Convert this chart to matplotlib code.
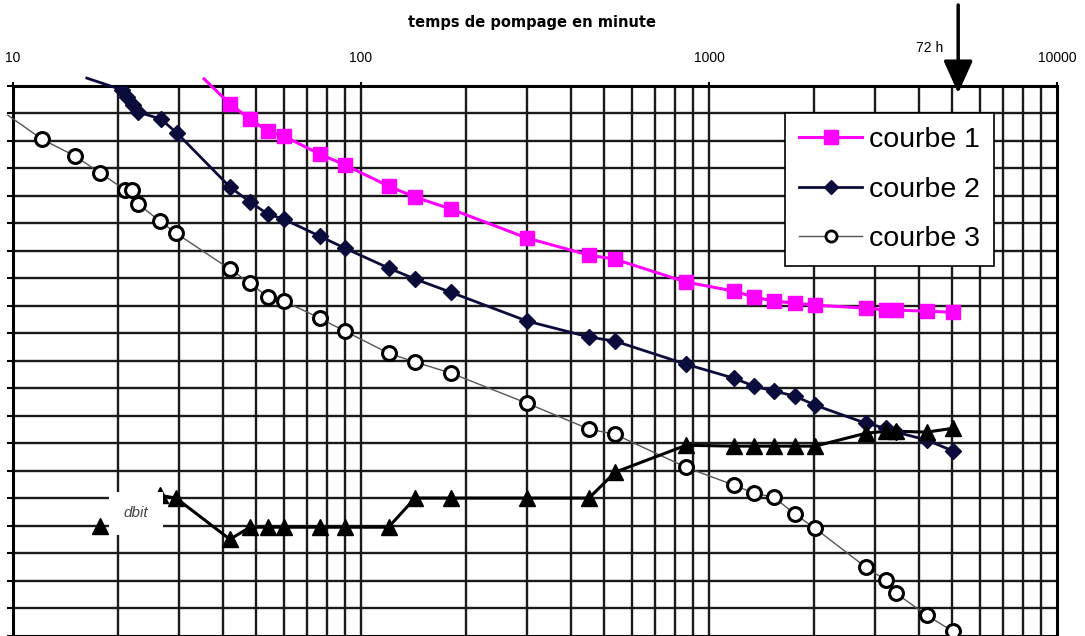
import numpy as np
import matplotlib.pyplot as plt
from matplotlib.lines import Line2D

# temps (min) et rabattement (en divisions de la grille, vers le bas)
t_c1 = [35.4, 42, 48, 54, 60, 76, 90, 120, 143, 181, 300, 452, 537, 859,
        1180, 1347, 1538, 1767, 2017, 2826, 3227, 3445, 4230, 5025]
s_c1 = [-0.25, 0.66, 1.21, 1.65, 1.83, 2.48, 2.88, 3.65, 4.05, 4.48, 5.54,
        6.16, 6.31, 7.14, 7.47, 7.69, 7.83, 7.91, 7.98, 8.09, 8.16, 8.16,
        8.20, 8.24]

t_c2 = [16.3, 20.6, 21.3, 22.1, 22.8, 26.6, 29.6, 42, 48, 54, 60, 76, 90,
        120, 143, 181, 300, 452, 537, 859, 1180, 1347, 1538, 1767, 2017,
        2826, 3227, 3445, 4230, 5025]
s_c2 = [-0.28, 0.15, 0.41, 0.70, 0.95, 1.21, 1.72, 3.68, 4.23, 4.67, 4.85,
        5.47, 5.91, 6.63, 7.03, 7.51, 8.56, 9.14, 9.29, 10.13, 10.64, 10.93,
        11.11, 11.29, 11.62, 12.28, 12.46, 12.60, 12.89, 13.29]

t_c3 = [9.67, 12.1, 15.1, 17.8, 21.0, 22.0, 22.9, 26.4, 29.4, 42, 48, 54,
        60, 76, 90, 120, 143, 181, 300, 452, 537, 859, 1180, 1347, 1538,
        1767, 2017, 2826, 3227, 3445, 4230, 5025]
s_c3 = [1.07, 1.94, 2.56, 3.17, 3.79, 3.79, 4.30, 4.92, 5.36, 6.67, 7.18,
        7.69, 7.83, 8.45, 8.93, 9.73, 10.05, 10.45, 11.55, 12.49, 12.68,
        13.88, 14.53, 14.82, 14.97, 15.59, 16.10, 17.52, 17.99, 18.46,
        19.27, 19.85]

t_q = [26.4, 29.4, 42, 48, 54, 60, 76, 90, 120, 143, 181, 300, 452, 537,
       859, 1180, 1347, 1538, 1767, 2017, 2826, 3227, 3445, 4230, 5025]
s_q = [14.9, 15.0, 16.5, 16.06, 16.06, 16.06, 16.06, 16.06, 16.06, 15.0,
       15.0, 15.0, 15.0, 14.06, 13.08, 13.11, 13.11, 13.11, 13.11, 13.11,
       12.64, 12.57, 12.57, 12.60, 12.46]

# repère isolé du débit, à côté de son étiquette
t_q_mark, s_q_mark = 17.8, 16.03

x_ticks = [10, 100, 1000, 10000]
x_labels = ["10", "100", "1000", "10000"]
t_72h = 5200

W, H = 1085, 636
fig = plt.figure(figsize=(W / 100, H / 100), dpi=100)
ax = fig.add_axes([13 / W, 1 - 635.5 / H, (1057 - 13) / W, (635.5 - 85.8) / H])

ax.set_xscale("log")
ax.set_xlim(10, 10000)
ax.set_ylim(20, 0)

grid_kw = dict(color="#1a1a1a", linewidth=1.7, zorder=1)
for t in [m * 10 ** e for e in (1, 2, 3) for m in range(2, 10)] + [100, 1000]:
    ax.axvline(t, **grid_kw)
for r in range(1, 20):
    ax.axhline(r, **grid_kw)

c1 = "#ff00ff"
c2 = "#0c0c3c"

# lignes (débordent du cadre au premier point)
ax.plot(t_c1, s_c1, color=c1, lw=2.2, clip_on=False, zorder=3)
ax.plot(t_c2, s_c2, color=c2, lw=2.0, clip_on=False, zorder=3)
ax.plot(t_c3, s_c3, color="#555555", lw=1.0, clip_on=False, zorder=3)
ax.plot(t_q, s_q, color="black", lw=2.2, zorder=3)

ax.plot(t_c1[1:], s_c1[1:], ls="none", marker="s", ms=10.5, color=c1, zorder=4)
ax.plot(t_c2[1:], s_c2[1:], ls="none", marker="D", ms=8, color=c2, zorder=4)
ax.plot(t_c3[1:], s_c3[1:], ls="none", marker="o", ms=10, mfc="white",
        mec="black", mew=2.2, zorder=4)
ax.plot(t_q, s_q, ls="none", marker="^", ms=11, color="black", zorder=4)
ax.plot([t_q_mark], [s_q_mark], ls="none", marker="^", ms=11, color="black",
        zorder=4)

ax.text(22.6, 15.55, "dbit", style="italic", fontsize=11, color="#444444",
        ha="center", va="center", family="Liberation Sans", zorder=5,
        bbox=dict(boxstyle="square,pad=0.95", fc="white", ec="none"))

# axe du temps en haut
ax.xaxis.tick_top()
ax.set_xticks(x_ticks, labels=x_labels)
ax.tick_params(axis="x", which="major", length=3, width=1.5, pad=12,
               labelsize=10)
ax.tick_params(axis="x", which="minor", length=0)
for lab in ax.get_xticklabels():
    lab.set_family("Liberation Sans")
ax.set_yticks(range(0, 21))
ax.tick_params(axis="y", which="major", direction="out", length=4, width=1.5,
               labelleft=False)
for sp in ax.spines.values():
    sp.set_linewidth(2.2)
    sp.set_color("black")
    sp.set_zorder(2)

fig.text(532 / W, 1 - 22 / H, "temps de pompage en minute", ha="center",
         va="center", fontsize=10.5, fontweight="bold", family="DejaVu Sans")

# flèche 72 h
ax.annotate("", xy=(t_72h, 0.27), xycoords="data",
            xytext=(t_72h, H - 5), textcoords=("data", "figure pixels"),
            annotation_clip=False,
            arrowprops=dict(arrowstyle="-|>,head_length=1.0,head_width=0.45",
                            mutation_scale=20, lw=2.5, color="black",
                            shrinkA=0, shrinkB=0))
fig.text(930 / W, 1 - 48 / H, "72 h", ha="center", va="center", fontsize=10,
         family="Liberation Sans")

handles = [
    Line2D([], [], color=c1, lw=2.2, marker="s", ms=10),
    Line2D([], [], color=c2, lw=2.0, marker="D", ms=7),
    Line2D([], [], color="#555555", lw=1.0, marker="o", ms=8, mfc="white",
           mec="black", mew=2),
]
leg = fig.legend(handles, ["courbe 1", "courbe 2", "courbe 3"],
                 loc="upper left", bbox_to_anchor=(785 / W, 1 - 113 / H),
                 borderaxespad=0, prop={"family": "Liberation Sans", "size": 20.5},
                 handlelength=2.2, handletextpad=0.25, labelspacing=0.82,
                 borderpad=0.5, fancybox=False, framealpha=1,
                 edgecolor="black")
leg.get_frame().set_linewidth(1.2)
leg.set_zorder(6)

fig.savefig("out.png", dpi=100)
